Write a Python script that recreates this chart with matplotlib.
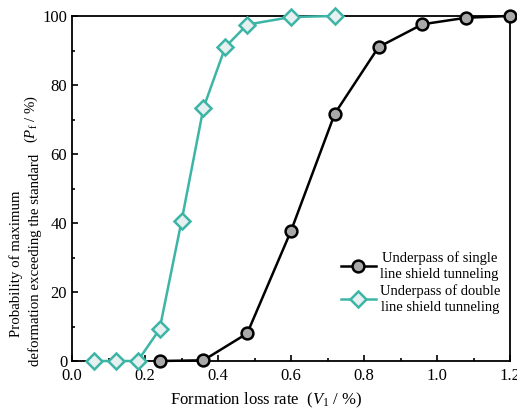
import matplotlib

matplotlib.use("Agg")
import matplotlib.pyplot as plt
from matplotlib.ticker import MultipleLocator

plt.rcParams["font.family"] = ["Liberation Serif", "DejaVu Serif"]
plt.rcParams["mathtext.fontset"] = "custom"
plt.rcParams["mathtext.rm"] = "Liberation Serif"
plt.rcParams["mathtext.it"] = "Liberation Serif:italic"

# data
single_x = [0.24, 0.36, 0.48, 0.60, 0.72, 0.84, 0.96, 1.08, 1.20]
single_y = [0.0, 0.2, 8.0, 37.7, 71.7, 91.0, 97.6, 99.5, 100.0]
double_x = [0.06, 0.12, 0.18, 0.24, 0.30, 0.36, 0.42, 0.48, 0.60, 0.72]
double_y = [0.0, 0.0, 0.0, 9.2, 40.5, 73.3, 91.0, 97.5, 99.7, 100.0]

TEAL = "#3db5a6"

fig = plt.figure(figsize=(5.17, 4.09), dpi=100)
ax = fig.add_axes([72 / 517, 1 - 361 / 409, 438 / 517, 345 / 409])

ax.plot(double_x, double_y, color=TEAL, lw=1.8, marker="D", ms=8.5,
        mfc="#e6f0f0", mec=TEAL, mew=1.8, clip_on=False, zorder=3,
        label="Underpass of double\nline shield tunneling")
ax.plot(single_x, single_y, color="black", lw=1.8, marker="o", ms=8.5,
        mfc="#a9a9a9", mec="black", mew=1.8, clip_on=False, zorder=4,
        label="Underpass of single\nline shield tunneling")

ax.set_xlim(0, 1.2)
ax.set_ylim(0, 100)
ax.xaxis.set_major_locator(MultipleLocator(0.2))
ax.xaxis.set_minor_locator(MultipleLocator(0.1))
ax.yaxis.set_major_locator(MultipleLocator(20))
ax.yaxis.set_minor_locator(MultipleLocator(10))
ax.xaxis.set_major_formatter(lambda v, p: f"{v:.1f}")
ax.tick_params(which="both", direction="in", labelsize=12, width=1.2)
ax.tick_params(which="major", length=4)
ax.tick_params(which="minor", length=2.5)
ax.tick_params(axis="x", pad=5)
for s in ax.spines.values():
    s.set_linewidth(1.3)

ax.set_xlabel(r"Formation loss rate  ($V_1$ / %)", fontsize=12, labelpad=3)
ax.xaxis.set_label_coords((266 - 72) / 438, -0.085)

fig.text(16 / 517, 1 - 264 / 409, "Probability of maximum", rotation=90,
         ha="center", va="center", fontsize=10.7)
fig.text(35 / 517, 1 - 260 / 409, "deformation exceeding the standard",
         rotation=90, ha="center", va="center", fontsize=10.7)
fig.text(31 / 517, 1 - 119 / 409, r"($P_{\rm f}$ / %)", rotation=90,
         ha="center", va="center", fontsize=10.7)

h, l = ax.get_legend_handles_labels()
leg = ax.legend(h[::-1], l[::-1], loc="lower right", bbox_to_anchor=(1.008, 0.098),
                frameon=False, fontsize=10.5, handlelength=2.4, handletextpad=0.3,
                labelspacing=0.2, alignment="center")
for t in leg.get_texts():
    t.set_multialignment("center")
    t.set_linespacing(1.3)

fig.savefig("out.png", dpi=100)
